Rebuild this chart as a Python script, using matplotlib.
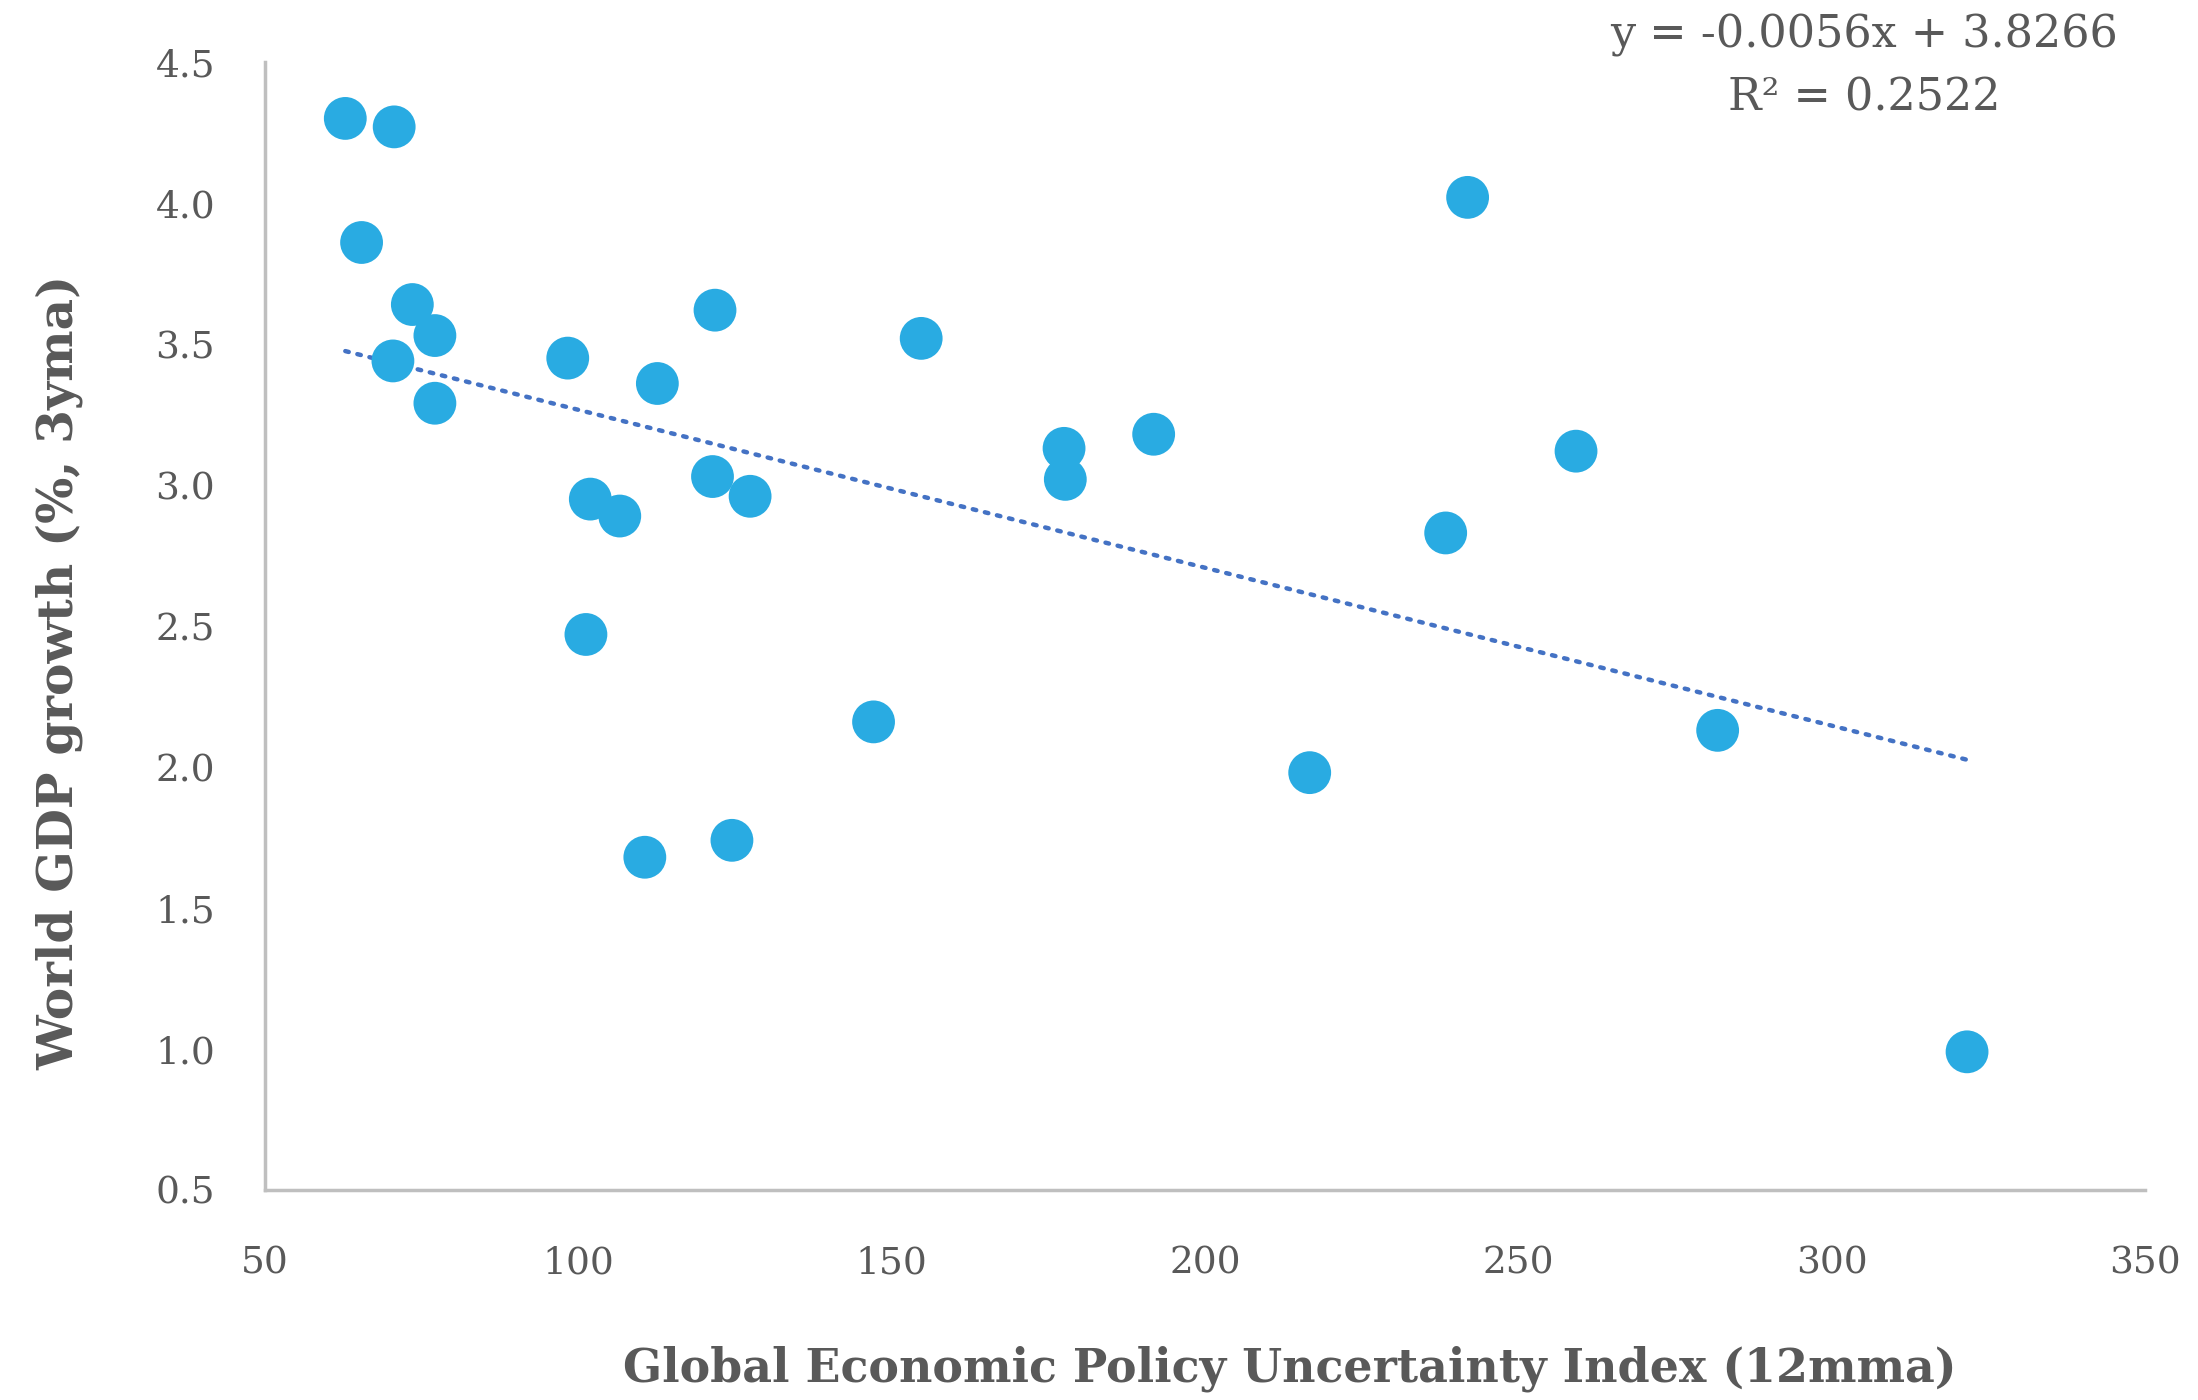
import numpy as np
import matplotlib
matplotlib.use("Agg")
import matplotlib.pyplot as plt

# Global EPU index (12mma) vs world GDP growth (%, 3yma)
epu = [62.8, 70.6, 65.4, 73.5, 77.1, 70.4, 77.1, 98.3, 112.6, 121.8,
       121.4, 127.4, 101.9, 106.6, 101.2, 147.1, 110.6, 124.5, 154.7,
       177.5, 177.7, 191.8, 216.7, 241.9, 238.4, 259.2, 281.8, 321.6]
gdp = [4.30, 4.27, 3.86, 3.64, 3.53, 3.44, 3.29, 3.45, 3.36, 3.62,
       3.03, 2.96, 2.95, 2.89, 2.47, 2.16, 1.68, 1.74, 3.52,
       3.13, 3.02, 3.18, 1.98, 4.02, 2.83, 3.12, 2.13, 0.99]
slope, intercept = -0.0056, 3.8266
r2 = 0.2522

x_ticks = [50, 100, 150, 200, 250, 300, 350]
y_ticks = [0.5, 1.0, 1.5, 2.0, 2.5, 3.0, 3.5, 4.0, 4.5]

GREY = "#595959"
plt.rcParams["font.family"] = ["DejaVu Serif"]

fig = plt.figure(figsize=(21.98, 14), dpi=100)
ax = fig.add_axes([0.1206, 0.15, 0.8553, 0.8057])

ax.scatter(epu, gdp, s=950, color="#29ABE2", edgecolors="none", zorder=3)

xs = np.array([min(epu), max(epu)])
ax.plot(xs, slope * xs + intercept, linestyle=(0, (0.8, 2.0)), color="#4472C4",
        linewidth=3.2, dash_capstyle="round", zorder=2)

ax.set_xlim(50, 350)
ax.set_ylim(0.5, 4.5)
ax.set_xticks(x_ticks)
ax.set_yticks(y_ticks)
ax.set_xticklabels([str(v) for v in x_ticks])
ax.set_yticklabels([f"{v:.1f}" for v in y_ticks])
ax.tick_params(length=0, labelsize=27, colors=GREY)
ax.tick_params(axis="x", pad=40)
ax.tick_params(axis="y", pad=36)

for side in ["top", "right"]:
    ax.spines[side].set_visible(False)
for side in ["left", "bottom"]:
    ax.spines[side].set_color("#BFBFBF")
    ax.spines[side].set_linewidth(2.5)

fig.text(0.587, 0.022, "Global Economic Policy Uncertainty Index (12mma)",
         ha="center", va="center", fontsize=33, fontweight="bold", color=GREY)
fig.text(0.027, 0.52, "World GDP growth (%, 3yma)", rotation=90,
         ha="center", va="center", fontsize=35, fontweight="bold", color=GREY)

fig.text(0.848, 0.975, f"y = {slope:.4f}x + {intercept:.4f}", ha="center",
         va="center", fontsize=32, color=GREY)
fig.text(0.848, 0.93, f"R² = {r2:.4f}", ha="center", va="center",
         fontsize=32, color=GREY)

fig.savefig("out.png", dpi=100)
